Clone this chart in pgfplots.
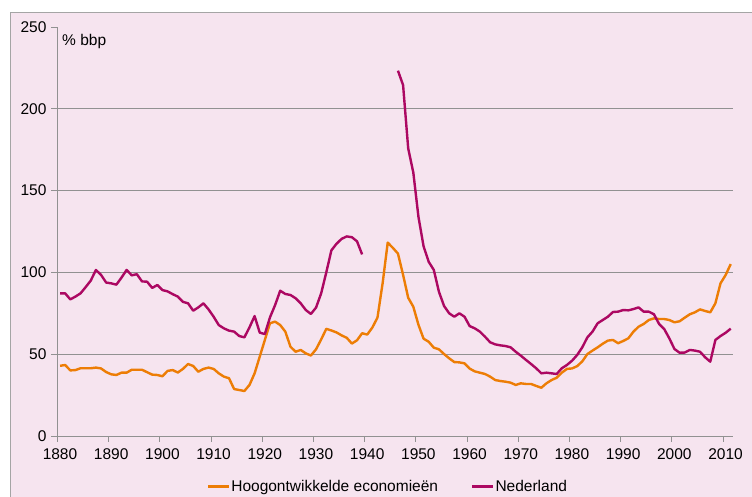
\documentclass[border=0pt]{standalone}
\usepackage{pgfplots}
\pgfplotsset{compat=1.18}
\usepackage{pgfplotstable}
\usepackage{fontspec}
\setmainfont{Liberation Sans}
\definecolor{bgpink}{RGB}{246,228,239}
\definecolor{gridgray}{RGB}{145,145,145}
\definecolor{borderg}{RGB}{165,165,165}
\definecolor{oranje}{RGB}{237,125,5}
\definecolor{paars}{RGB}{172,8,98}

\pgfplotstableread{
year val
1880 42.9
1881 43.4
1882 40.1
1883 40.3
1884 41.4
1885 41.4
1886 41.4
1887 41.8
1888 41.3
1889 39.1
1890 37.7
1891 37.3
1892 38.7
1893 38.7
1894 40.5
1895 40.5
1896 40.5
1897 39.0
1898 37.5
1899 37.3
1900 36.5
1901 39.8
1902 40.3
1903 38.8
1904 41.0
1905 44.0
1906 42.8
1907 39.3
1908 41.0
1909 41.8
1910 41.0
1911 38.3
1912 36.3
1913 35.3
1914 28.7
1915 28.1
1916 27.5
1917 31.2
1918 38.3
1919 48.5
1920 58.7
1921 68.9
1922 69.9
1923 67.8
1924 63.8
1925 54.6
1926 51.5
1927 52.6
1928 50.5
1929 49.2
1930 53.0
1931 59.0
1932 65.5
1933 64.5
1934 63.3
1935 61.5
1936 60.0
1937 56.5
1938 58.5
1939 62.8
1940 62.0
1941 66.3
1942 72.4
1943 93.3
1944 118.2
1945 115.0
1946 111.5
1947 98.5
1948 84.5
1949 79.0
1950 68.0
1951 59.5
1952 57.6
1953 54.0
1954 53.0
1955 50.1
1956 47.5
1957 45.2
1958 45.0
1959 44.4
1960 41.2
1961 39.5
1962 38.7
1963 37.9
1964 36.3
1965 34.2
1966 33.6
1967 33.2
1968 32.6
1969 31.2
1970 32.2
1971 31.8
1972 31.8
1973 30.6
1974 29.5
1975 32.2
1976 34.2
1977 35.6
1978 38.7
1979 41.0
1980 41.3
1981 42.7
1982 45.6
1983 50.1
1984 52.2
1985 54.2
1986 56.4
1987 58.3
1988 58.7
1989 56.7
1990 58.1
1991 59.7
1992 63.8
1993 66.8
1994 68.5
1995 70.9
1996 71.9
1997 71.5
1998 71.5
1999 70.9
2000 69.5
2001 70.1
2002 72.3
2003 74.4
2004 75.6
2005 77.4
2006 76.4
2007 75.6
2008 81.1
2009 93.3
2010 98.4
2011 105.1
}\hoog

\pgfplotstableread{
year val
1880 87.2
1881 87.2
1882 83.5
1883 85.2
1884 87.2
1885 91.0
1886 95.0
1887 101.5
1888 98.5
1889 93.8
1890 93.3
1891 92.5
1892 96.8
1893 101.5
1894 98.2
1895 98.9
1896 94.5
1897 94.3
1898 90.5
1899 92.3
1900 89.2
1901 88.4
1902 86.7
1903 85.2
1904 82.0
1905 81.1
1906 76.6
1907 78.6
1908 81.1
1909 77.4
1910 72.9
1911 67.8
1912 65.8
1913 64.4
1914 63.8
1915 61.1
1916 60.3
1917 66.4
1918 73.3
1919 63.2
1920 62.3
1921 72.5
1922 80.0
1923 88.8
1924 86.8
1925 86.2
1926 84.2
1927 81.1
1928 77.0
1929 74.6
1930 78.5
1931 87.2
1932 100.0
1933 113.5
1934 117.5
1935 120.5
1936 122.0
1937 121.5
1938 119.0
1939 111.0
1940 nan
1941 nan
1942 nan
1943 nan
1944 nan
1945 nan
1946 223.3
1947 214.5
1948 175.8
1949 161.0
1950 134.0
1951 116.0
1952 106.5
1953 101.5
1954 88.2
1955 79.5
1956 75.0
1957 72.9
1958 75.0
1959 72.9
1960 67.2
1961 65.8
1962 63.8
1963 60.7
1964 57.3
1965 56.0
1966 55.4
1967 55.0
1968 54.2
1969 51.5
1970 49.1
1971 46.5
1972 44.0
1973 41.4
1974 38.3
1975 38.7
1976 38.3
1977 37.9
1978 41.4
1979 43.4
1980 46.0
1981 49.5
1982 54.2
1983 60.3
1984 63.8
1985 68.9
1986 70.9
1987 72.9
1988 75.8
1989 76.0
1990 77.0
1991 76.8
1992 77.6
1993 78.6
1994 76.0
1995 76.0
1996 74.4
1997 68.5
1998 65.4
1999 59.7
2000 53.2
2001 50.9
2002 51.0
2003 52.6
2004 52.2
2005 51.5
2006 48.1
2007 45.4
2008 58.7
2009 61.1
2010 63.1
2011 65.6
}\ned

\begin{document}
\begin{tikzpicture}
\useasboundingbox (0pt,0pt) rectangle (752pt,497pt);
\fill[bgpink] (10pt,0pt) rectangle (752pt,485pt);
\draw[borderg, line width=0.8pt] (10pt,-2pt) -- (10pt,485pt) -- (754pt,485pt);
\begin{axis}[
  at={(57.5pt,61pt)}, anchor=south west,
  width=675.8pt, height=409pt, scale only axis,
  xmin=1879.5, xmax=2011.5, ymin=0, ymax=250,
  axis lines*=left,
  axis line style={gridgray, line width=0.9pt},
  tick style={gridgray, line width=0.9pt},
  tick align=outside,
  major tick length=6pt,
  xtick={1879.5,1889.5,1899.5,1909.5,1919.5,1929.5,1939.5,1949.5,1959.5,1969.5,1979.5,1989.5,1999.5,2009.5},
  xticklabels={1880,1890,1900,1910,1920,1930,1940,1950,1960,1970,1980,1990,2000,2010},
  xticklabel style={xshift=2.5pt, yshift=-3pt},
  yticklabel style={xshift=-1.5pt},
  ytick={0,250},
  extra y ticks={50,100,150,200},
  extra y tick style={grid=major},
  grid style={gridgray, line width=0.9pt},
  /pgf/number format/assume math mode=true,
  ticklabel style={font=\fontsize{15.5}{18}\selectfont, text=black},
  unbounded coords=jump,
  legend columns=2,
  legend style={at={(0.4883,-0.1235)}, anchor=center, draw=none, fill=none,
    font=\fontsize{15.5}{18}\selectfont,
    nodes={inner xsep=1pt},
    /tikz/every even column/.append style={column sep=32pt}},
  legend image code/.code={\draw[#1, line width=2.4pt] (0pt,0pt) -- (21pt,0pt);},
  clip=false,
]
\addplot[oranje, line width=2.4pt, line join=round] table[x=year, y=val] {\hoog};
\addlegendentry{Hoogontwikkelde economieën}
\addplot[paars, line width=2.4pt, line join=round] table[x=year, y=val] {\ned};
\addlegendentry{Nederland}
\node[anchor=base west, inner sep=0pt, font=\fontsize{15.5}{18}\selectfont] at (rel axis cs:0.0067,0.9548) {\% bbp};
\end{axis}
\end{tikzpicture}
\end{document}
